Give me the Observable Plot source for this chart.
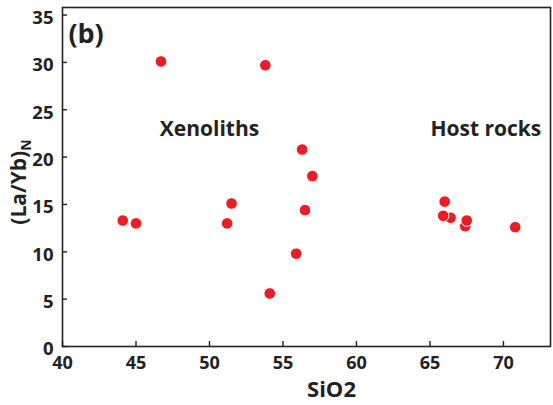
<!DOCTYPE html>
<html>
<head>
<meta charset="utf-8">
<script src="https://cdn.jsdelivr.net/npm/d3@7"></script>
<script src="https://cdn.jsdelivr.net/npm/@observablehq/plot@0.6"></script>
<style>
  html, body { margin: 0; padding: 0; background: #fff; }
  #chart svg { display: block; font-family: "Open Sans", sans-serif; }
</style>
</head>
<body>
<div id="chart"></div>
<script>
// Data
const sio2 = [46.7, 53.8, 56.3, 57.0, 51.5, 44.1, 45.0, 51.2, 56.5, 55.9, 54.1,
              66.4, 65.9, 66.0, 67.4, 67.5, 70.8];
const laYbN = [30.1, 29.7, 20.8, 18.0, 15.1, 13.3, 13.0, 13.0, 14.4, 9.8, 5.6,
               13.6, 13.8, 15.3, 12.7, 13.3, 12.6];
const xTicks = [40, 45, 50, 55, 60, 65, 70];
const yTicks = [0, 5, 10, 15, 20, 25, 30, 35];
const labelText = ["(b)", "Xenoliths", "Host rocks"];
const labelX = [40.4, 50.0, 68.8];
const labelY = [33.0, 22.9, 22.9];
const labelAnchor = ["start", "middle", "middle"];
const labelSize = [27, 21, 21];

const points = sio2.map((x, i) => ({x, y: laYbN[i]}));
const labels = labelText.map((t, i) => ({t, x: labelX[i], y: labelY[i], a: labelAnchor[i], s: labelSize[i]}));

const ink = "#222";
const plot = Plot.plot({
  width: 553,
  height: 405,
  marginLeft: 62,
  marginRight: 3,
  marginTop: 7,
  marginBottom: 59,
  x: {domain: [40, 73.2]},
  y: {domain: [0, 35.8]},
  style: {fontFamily: "Open Sans, sans-serif", color: ink, background: "#fff"},
  marks: [
    Plot.frame({stroke: ink, strokeWidth: 1.6}),
    Plot.axisX(xTicks, {tickSize: -5, tickPadding: 15, fontSize: 18, fontWeight: 700, stroke: ink, strokeWidth: 1.4, label: null}),
    Plot.axisY(yTicks, {tickSize: -5, tickFormat: () => "", stroke: ink, strokeWidth: 1.4, label: null}),
    Plot.axisY(yTicks, {tickSize: 0, tickPadding: 9, dy: 3, fontSize: 18.5, fontWeight: 700, label: null}),
    Plot.dot(points, {x: "x", y: "y", r: 5.8, fill: "#ec1c24", stroke: "#fff", strokeWidth: 1}),
    ...labels.map(d => Plot.text([d], {x: "x", y: "y", text: "t", textAnchor: d.a, fontSize: d.s, fontWeight: 700, fill: ink})),
    Plot.text(["SiO2"], {x: [58.3], frameAnchor: "bottom", dy: 50, fontSize: 22, fontWeight: 700, fill: ink})
  ]
});
document.getElementById("chart").appendChild(plot);

// y-axis label with subscript N
const svg = d3.select(plot);
const yl = svg.append("text")
  .attr("transform", "translate(26,182) rotate(-90)")
  .attr("text-anchor", "middle")
  .attr("font-size", 21)
  .attr("font-weight", 700)
  .attr("fill", ink)
  .attr("font-family", "Open Sans, sans-serif");
yl.append("tspan").text("(La/Yb)");
yl.append("tspan").attr("font-size", 14).attr("dy", 5).text("N");
</script>
</body>
</html>
